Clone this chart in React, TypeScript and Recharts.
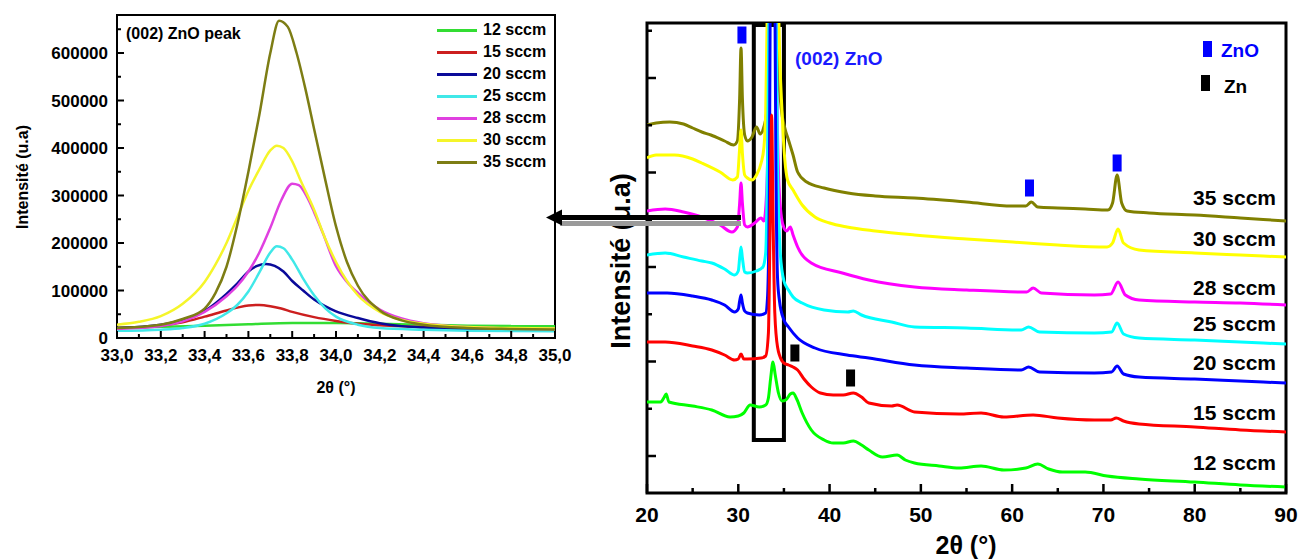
import React from 'react';
import { LineChart, Line, XAxis, YAxis, ReferenceArea, ReferenceDot, Legend } from 'recharts';

const FONT = 'Arial, "Liberation Sans", Helvetica, sans-serif';

// ---------- shared ----------
const sampleNames = ['12 sccm', '15 sccm', '20 sccm', '25 sccm', '28 sccm', '30 sccm', '35 sccm'];
const zoomColors = ['#33dd33', '#cc1f1f', '#0a0a99', '#40e8e8', '#e040e0', '#f5f52a', '#7d7d14'];
const fullColors = ['#00ff00', '#ff0000', '#0000ff', '#00ffff', '#ff00ff', '#ffff00', '#808000'];

// ---------- left chart: (002) ZnO peak, intensity vs 2theta ----------
const zoom12 = [[33.0, 21000], [33.2, 23500], [33.4, 26000], [33.6, 29000], [33.8, 31500], [34.0, 31500], [34.2, 30000], [34.4, 28000], [34.6, 26000], [34.8, 25000], [35.0, 24500]];
const zoom15 = [[33.0, 21000], [33.2, 26000], [33.3, 33000], [33.4, 45000], [33.5, 58000], [33.55, 64000], [33.6, 68500], [33.65, 69500], [33.7, 67000], [33.75, 62000], [33.8, 55000], [33.9, 44000], [34.0, 36000], [34.1, 30000], [34.2, 27000], [34.4, 23000], [34.6, 21000], [34.8, 20000], [35.0, 19000]];
const zoom20 = [[33.0, 21000], [33.2, 28000], [33.3, 38000], [33.4, 57000], [33.5, 93000], [33.55, 115000], [33.6, 140000], [33.64, 152000], [33.68, 156000], [33.72, 152000], [33.76, 140000], [33.8, 120000], [33.85, 100000], [33.9, 81000], [33.95, 67000], [34.0, 56000], [34.1, 42000], [34.2, 31000], [34.3, 25000], [34.4, 22000], [34.6, 18000], [34.8, 16500], [35.0, 15500]];
const zoom25 = [[33.0, 15000], [33.2, 17500], [33.3, 21000], [33.4, 30000], [33.5, 52000], [33.55, 70000], [33.6, 98000], [33.65, 138000], [33.7, 180000], [33.73, 193000], [33.76, 189000], [33.8, 165000], [33.85, 125000], [33.9, 90000], [33.95, 63000], [34.0, 45000], [34.1, 28000], [34.2, 21000], [34.4, 17500], [34.6, 15500], [34.8, 14500], [35.0, 14000]];
const zoom28 = [[33.0, 19000], [33.2, 25000], [33.3, 35000], [33.4, 55000], [33.5, 88000], [33.55, 110000], [33.6, 140000], [33.65, 180000], [33.7, 232000], [33.75, 290000], [33.8, 325000], [33.83, 322000], [33.87, 295000], [33.9, 265000], [33.94, 221000], [34.0, 151000], [34.05, 118000], [34.1, 95000], [34.2, 60000], [34.3, 41000], [34.4, 31000], [34.6, 23000], [34.8, 20000], [35.0, 19000]];
const zoom30 = [[33.0, 28000], [33.1, 34000], [33.2, 46000], [33.3, 72000], [33.4, 118000], [33.45, 155000], [33.5, 200000], [33.55, 255000], [33.6, 310000], [33.65, 355000], [33.7, 395000], [33.73, 405000], [33.76, 400000], [33.8, 372000], [33.84, 330000], [33.9, 270000], [33.95, 210000], [34.0, 160000], [34.05, 120000], [34.1, 90000], [34.2, 55000], [34.3, 38000], [34.4, 30000], [34.6, 23000], [34.8, 21000], [35.0, 20000]];
const zoom35 = [[33.0, 21000], [33.2, 28000], [33.3, 40000], [33.4, 62000], [33.45, 95000], [33.5, 150000], [33.55, 240000], [33.6, 350000], [33.65, 470000], [33.7, 600000], [33.74, 668000], [33.78, 655000], [33.82, 600000], [33.86, 525000], [33.9, 440000], [33.95, 335000], [34.0, 235000], [34.05, 160000], [34.1, 110000], [34.2, 58000], [34.3, 37000], [34.4, 28000], [34.6, 21000], [34.8, 19000], [35.0, 18000]];
const zoomSeries = [zoom12, zoom15, zoom20, zoom25, zoom28, zoom30, zoom35];

const zoomXTicks = [33.0, 33.1, 33.2, 33.3, 33.4, 33.5, 33.6, 33.7, 33.8, 33.9, 34.0, 34.1, 34.2, 34.3, 34.4, 34.5, 34.6, 34.7, 34.8, 34.9, 35.0];
const zoomYTicks = [0, 50000, 100000, 150000, 200000, 250000, 300000, 350000, 400000, 450000, 500000, 550000, 600000, 650000];
const zoomXDomain = [33, 35];
const zoomYDomain = [0, 680000];

// ---------- right chart: full XRD patterns (stacked, arbitrary units) ----------
const full12 = [[20, 91], [21.5, 91], [21.9, 96], [22.1, 99], [22.4, 91], [25, 87], [27.1, 83], [29.1, 76], [30.0, 77], [30.6, 80], [31.3, 88], [32.3, 86], [33.0, 88], [33.3, 95], [33.55, 115], [33.8, 131], [34.05, 118], [34.4, 100], [34.8, 92], [35.2, 93], [35.7, 99], [36.0, 100], [36.4, 94], [37.0, 80], [38, 63], [39.4, 53], [40.4, 50], [41.5, 50], [42.6, 52], [43.5, 48], [44.3, 43], [45.8, 36], [47.4, 38], [48.3, 33], [49.3, 30], [52, 27], [54.2, 25], [56.6, 27], [59.1, 23], [61.5, 25], [62.8, 29], [64, 24], [65.5, 21], [68, 21], [70.4, 17], [73.9, 14], [80, 11], [85, 8], [90, 6]];
const full15 = [[20, 151], [22, 151], [25, 147], [27.1, 143], [28.5, 138], [29.6, 133], [30.0, 134], [30.3, 139], [30.6, 134], [31, 134], [32.5, 135], [33.0, 137], [33.3, 160], [33.5, 280], [33.65, 378], [33.8, 280], [34.0, 180], [34.3, 146], [34.8, 132], [35.0, 130], [35.5, 128], [36.0, 126], [36.5, 123], [37.2, 114], [38, 106], [39, 100], [40.4, 98], [41.5, 98], [42.6, 100], [43.5, 96], [44.3, 90], [46.8, 87], [47.4, 88], [49.3, 81], [54.2, 79], [56.6, 80], [59.1, 76], [62.3, 78], [65, 75], [69, 73], [70.8, 73], [71.4, 75], [72.2, 72], [73.9, 69], [80, 66], [85, 63], [90, 61]];
const full20 = [[20, 200], [22.2, 200], [25, 197], [27.1, 193], [28.5, 188], [29.6, 181], [30.0, 184], [30.15, 192], [30.3, 198], [30.45, 190], [30.7, 182], [31, 180], [32.3, 178], [33.0, 180], [33.2, 195], [33.4, 300], [33.55, 600], [33.75, 2000], [33.95, 600], [34.15, 300], [34.3, 215], [34.5, 193], [35.0, 173], [35.5, 166], [36.5, 155], [38.4, 145], [41.9, 138], [44.3, 135], [49.3, 128], [55, 125], [61.0, 123], [61.8, 126], [63, 121], [69, 120], [70.9, 121], [71.5, 127], [72.2, 119], [73.9, 116], [80, 114], [85, 112], [90, 110]];
const full25 = [[20, 238], [22, 240], [24, 236], [26, 232], [27.1, 230], [28.5, 224], [29.6, 218], [30.0, 222], [30.15, 235], [30.3, 246], [30.45, 235], [30.7, 221], [31.0, 220], [32.0, 222], [32.7, 226], [33.0, 240], [33.2, 330], [33.35, 470], [33.5, 800], [33.75, 2000], [34.0, 800], [34.15, 470], [34.3, 330], [34.6, 240], [35.0, 212], [35.5, 203], [36.0, 196], [37, 190], [39.4, 183], [42.0, 181], [42.6, 182], [43.5, 178], [46.8, 171], [49.3, 166], [55, 165], [61.0, 163], [61.8, 166], [63, 161], [69, 160], [70.9, 161], [71.5, 170], [72.2, 159], [73.9, 155], [80, 153], [85, 151], [90, 149]];
const full28 = [[20, 282], [22, 284], [24, 281], [26, 276], [28, 268], [29.3, 261], [29.9, 266], [30.15, 290], [30.3, 310], [30.45, 290], [30.7, 268], [31.0, 266], [31.8, 270], [32.5, 275], [32.8, 272], [33.1, 300], [33.35, 420], [33.55, 700], [33.75, 2000], [33.95, 700], [34.2, 420], [34.5, 300], [34.9, 268], [35.3, 262], [35.7, 266], [36.0, 258], [36.5, 246], [38, 230], [41.4, 220], [44.3, 213], [49.3, 206], [55, 203], [61.6, 201], [62.3, 205], [63.2, 200], [69, 198], [70.8, 199], [71.6, 211], [72.4, 198], [73.9, 193], [80, 191], [85, 190], [90, 188]];
const full30 = [[20, 335], [21, 338], [23, 338], [25, 334], [26, 330], [28, 321], [29.4, 313], [29.9, 316], [30.15, 345], [30.3, 363], [30.45, 340], [30.7, 318], [31.0, 315], [31.5, 313], [32.0, 318], [32.5, 330], [32.8, 345], [33.0, 380], [33.15, 470], [33.5, 800], [33.75, 2000], [34.0, 800], [34.45, 470], [34.8, 380], [35.1, 333], [35.4, 313], [36.0, 303], [37.0, 288], [38.4, 276], [40, 270], [41.9, 266], [45, 262], [49.3, 258], [55, 254], [61.6, 250], [65, 248], [70.4, 246], [71.0, 250], [71.6, 264], [72.2, 250], [73.9, 243], [80, 240], [85, 238], [90, 236]];
const full35 = [[20, 368], [21, 370], [22.5, 371], [24, 369], [25, 365], [26, 361], [27, 358], [28.5, 352], [29.5, 348], [29.9, 352], [30.15, 395], [30.3, 445], [30.45, 395], [30.7, 358], [31.0, 352], [31.5, 356], [32.0, 366], [32.4, 359], [32.8, 366], [33.1, 380], [33.35, 450], [33.5, 650], [33.75, 2000], [34.0, 650], [34.3, 440], [34.7, 385], [35.1, 365], [35.5, 353], [36.0, 338], [36.5, 321], [37.5, 311], [39.4, 305], [42, 300], [45, 297], [49.3, 295], [55, 291], [60, 287], [61.5, 287], [62.1, 291], [62.8, 286], [65, 285], [68, 284], [70.5, 283], [71.0, 290], [71.5, 318], [72.0, 290], [72.6, 282], [75, 280], [80, 278], [85, 275], [90, 272]];
const fullSeries = [full12, full15, full20, full25, full28, full30, full35];
const fullDrawOrder = [6, 5, 4, 3, 2, 1, 0];

const fullXTicks = [20, 25, 30, 35, 40, 45, 50, 55, 60, 65, 70, 75, 80, 85, 90];
const fullYTicks = [37, 84.25, 131.5, 178.75, 226, 273.25, 320.5, 367.75, 415, 462.25];
const fullXDomain = [20, 90];
const fullYDomain = [0, 470];

const znoPeaks = [[30.4, 458], [61.9, 305], [71.5, 330]];
const znPeaks = [[36.2, 140], [42.3, 115]];
const peakBox = { x1: 31.7, x2: 35.0, y1: 53, y2: 468 };

const toPts = (arr: number[][]) => arr.map(([x, y]) => ({ x, y }));

// ---------- tick renderers ----------
const ZoomXTick = (props: any) => {
  const { x, y, payload } = props;
  const v = payload.value as number;
  const major = Math.round(v * 10) % 2 === 0;
  const ay = y - 17;
  return (
    <g>
      <line x1={x} x2={x} y1={ay} y2={ay - (major ? 7 : 4)} stroke="#000" strokeWidth={2} />
      {major && (
        <text x={x} y={y} dy="0.36em" textAnchor="middle" fontSize={17} fontWeight="bold" fontFamily={FONT} fill="#000">
          {v.toFixed(1).replace('.', ',')}
        </text>
      )}
    </g>
  );
};

const ZoomYTick = (props: any) => {
  const { x, y, payload } = props;
  const v = payload.value as number;
  const major = v % 100000 === 0;
  const ax = x + 9;
  return (
    <g>
      <line x1={ax} x2={ax + (major ? 7 : 4)} y1={y} y2={y} stroke="#000" strokeWidth={2} />
      {major && (
        <text x={x} y={y} dy="0.36em" textAnchor="end" fontSize={17} fontWeight="bold" fontFamily={FONT} fill="#000">
          {v}
        </text>
      )}
    </g>
  );
};

const FullXTick = (props: any) => {
  const { x, y, payload } = props;
  const v = payload.value as number;
  const major = v % 10 === 0;
  const ay = y - 21;
  return (
    <g>
      <line x1={x} x2={x} y1={ay} y2={ay - (major ? 9 : 5)} stroke="#000" strokeWidth={2.5} />
      {major && (
        <text x={x} y={y} dy="0.36em" textAnchor="middle" fontSize={21} fontWeight="bold" fontFamily={FONT} fill="#000">
          {v}
        </text>
      )}
    </g>
  );
};

const FullYTick = (props: any) => {
  const { x, y, index } = props;
  const major = index % 2 === 0;
  return <line x1={x} x2={x + (major ? 9 : 5)} y1={y} y2={y} stroke="#000" strokeWidth={2.5} />;
};

const ZoomLegend = (props: any) => {
  const payload: any[] = props.payload || [];
  const ordered = sampleNames.map((n) => payload.find((p) => p.value === n)).filter(Boolean);
  return (
    <div style={{ fontFamily: FONT }}>
      {ordered.map((p: any) => (
        <div key={p.value} style={{ display: 'flex', alignItems: 'center', height: 22 }}>
          <div style={{ width: 40, height: 3, background: p.color, marginRight: 6 }} />
          <span style={{ fontSize: 16, fontWeight: 'bold', color: '#000', lineHeight: '22px' }}>{p.value}</span>
        </div>
      ))}
    </div>
  );
};

const BlueMark = (p: any) => <rect x={p.cx - 4.5} y={p.cy - 8.5} width={9} height={17} fill="#0000ff" />;
const BlackMark = (p: any) => <rect x={p.cx - 4.5} y={p.cy - 8.5} width={9} height={17} fill="#000" />;

const sccmLabelY = [462, 412, 362, 323, 287, 238, 197];

export default function App() {
  return (
    <div style={{ position: 'absolute', left: 0, top: 0, width: 1303, height: 559, background: '#fff', fontFamily: FONT }}>
      {/* Left chart */}
      <div style={{ position: 'absolute', left: 0, top: 0 }}>
        <LineChart width={585} height={400} margin={{ top: 15, right: 30, bottom: 32, left: 0 }}>
          <XAxis
            dataKey="x"
            type="number"
            domain={zoomXDomain}
            allowDataOverflow
            ticks={zoomXTicks}
            interval={0}
            tick={ZoomXTick}
            tickLine={false}
            axisLine={false}
            tickSize={0}
            tickMargin={17}
            height={30}
          />
          <YAxis
            type="number"
            domain={zoomYDomain}
            allowDataOverflow
            ticks={zoomYTicks}
            interval={0}
            tick={ZoomYTick}
            tickLine={false}
            axisLine={false}
            tickSize={0}
            tickMargin={9}
            width={117}
          />
          {zoomSeries.map((s, i) => (
            <Line
              key={sampleNames[i]}
              name={sampleNames[i]}
              data={toPts(s)}
              dataKey="y"
              type="monotone"
              stroke={zoomColors[i]}
              strokeWidth={2.5}
              dot={false}
              activeDot={false}
              isAnimationActive={false}
            />
          ))}
          <ReferenceArea x1={33} x2={35} y1={0} y2={680000} fill="none" stroke="#000" strokeWidth={2} ifOverflow="visible" />
          <Legend
            layout="vertical"
            align="center"
            verticalAlign="middle"
            content={ZoomLegend}
            wrapperStyle={{ position: 'absolute', top: 19, left: 437, width: 125, height: 154 }}
          />
        </LineChart>
      </div>

      {/* Right chart */}
      <div style={{ position: 'absolute', left: 560, top: 0 }}>
        <LineChart width={743} height={559} margin={{ top: 23, right: 17, bottom: 36, left: 0 }}>
          <XAxis
            dataKey="x"
            type="number"
            domain={fullXDomain}
            allowDataOverflow
            ticks={fullXTicks}
            interval={0}
            tick={FullXTick}
            tickLine={false}
            axisLine={false}
            tickSize={0}
            tickMargin={21}
            height={30}
          />
          <YAxis
            type="number"
            domain={fullYDomain}
            allowDataOverflow
            ticks={fullYTicks}
            interval={0}
            tick={FullYTick}
            tickLine={false}
            axisLine={false}
            tickSize={0}
            tickMargin={0}
            width={87}
          />
          {fullDrawOrder.map((i) => (
            <Line
              key={sampleNames[i]}
              name={sampleNames[i]}
              data={toPts(fullSeries[i])}
              dataKey="y"
              type="monotone"
              stroke={fullColors[i]}
              strokeWidth={3}
              dot={false}
              activeDot={false}
              isAnimationActive={false}
            />
          ))}
          <ReferenceArea x1={peakBox.x1} x2={peakBox.x2} y1={peakBox.y1} y2={peakBox.y2} fill="none" stroke="#000" strokeWidth={4} ifOverflow="visible" />
          <ReferenceArea x1={20} x2={90} y1={0} y2={470} fill="none" stroke="#000" strokeWidth={3} ifOverflow="visible" />
          {znoPeaks.map(([x, y], k) => (
            <ReferenceDot key={'zno' + k} x={x} y={y} r={5} ifOverflow="visible" shape={BlueMark} />
          ))}
          {znPeaks.map(([x, y], k) => (
            <ReferenceDot key={'zn' + k} x={x} y={y} r={5} ifOverflow="visible" shape={BlackMark} />
          ))}
        </LineChart>
      </div>

      {/* Annotations */}
      <svg width={1303} height={559} style={{ position: 'absolute', left: 0, top: 0, pointerEvents: 'none' }} fontFamily={FONT}>
        {/* left chart texts */}
        <text x={126} y={33} dy="0.36em" fontSize={16} fontWeight="bold" fill="#000">(002) ZnO peak</text>
        <text x={0} y={0} transform="translate(22,177) rotate(-90)" textAnchor="middle" dy="0.36em" fontSize={16} fontWeight="bold" fill="#000">Intensité (u.a)</text>
        <text x={336} y={387} dy="0.36em" textAnchor="middle" fontSize={16} fontWeight="bold" fill="#000">2θ (°)</text>

        {/* right chart texts */}
        <text x={0} y={0} transform="translate(620,261) rotate(-90)" textAnchor="middle" dy="0.36em" fontSize={27} fontWeight="bold" fill="#000">Intensité (u.a)</text>
        <text x={966} y={545} dy="0.36em" textAnchor="middle" fontSize={25} fontWeight="bold" fill="#000">2θ (°)</text>
        <text x={795} y={58} dy="0.36em" fontSize={19} fontWeight="bold" fill="#1a1aff">(002) ZnO</text>
        <rect x={1203} y={41} width={9} height={16} fill="#0000ff" />
        <text x={1221} y={50} dy="0.36em" fontSize={19} fontWeight="bold" fill="#0000ff">ZnO</text>
        <rect x={1201} y={75} width={9} height={16} fill="#000" />
        <text x={1224} y={86} dy="0.36em" fontSize={19} fontWeight="bold" fill="#000">Zn</text>
        {sampleNames.map((n, i) => (
          <text key={n} x={1276} y={sccmLabelY[i]} dy="0.36em" textAnchor="end" fontSize={21} fontWeight="bold" fill="#000">{n}</text>
        ))}

        {/* arrow */}
        <rect x={560} y={221} width={181} height={5} fill="#9a9a9a" />
        <rect x={558} y={215} width={183} height={5} fill="#000" />
        <polygon points="546,217.5 562,209.5 562,225.5" fill="#000" />
      </svg>
    </div>
  );
}
